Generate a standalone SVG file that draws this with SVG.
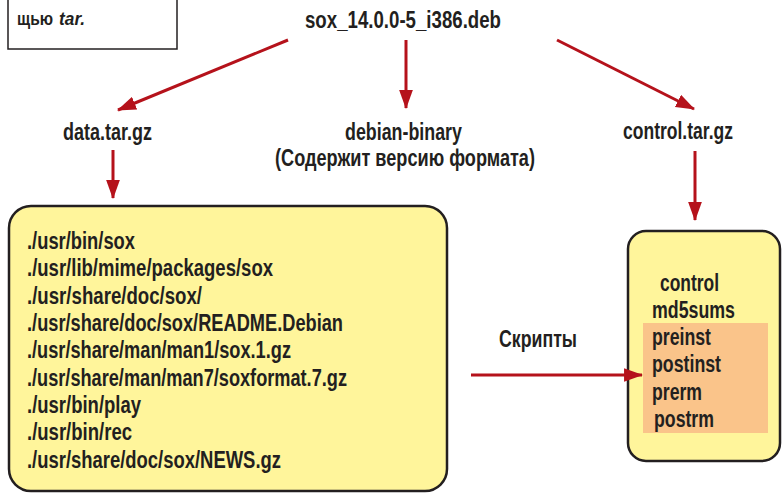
<svg xmlns="http://www.w3.org/2000/svg" width="782" height="494" viewBox="0 0 782 494">
<defs>
<style>
text{font-family:"Liberation Sans",Arial,sans-serif;font-weight:bold;fill:#231f20;font-size:23px}
.c{stroke:#b5121b;stroke-width:3;fill:none;marker-end:url(#ah)}
.box{fill:#fff59b;stroke:#231f20;stroke-width:2.5}
</style>
<marker id="ah" markerUnits="userSpaceOnUse" markerWidth="19" markerHeight="14" refX="17" refY="6.5" orient="auto" viewBox="0 0 18 13">
<path d="M0,0 L18,6.5 L0,13 z" fill="#b5121b"/>
</marker>
</defs>
<rect width="782" height="494" fill="#ffffff"/>
<g id="note">
<rect x="8" y="-10" width="169" height="59" fill="#ffffff" stroke="#231f20" stroke-width="1.5"/>
<text x="17" y="25" style="font-size:18px" textLength="36" lengthAdjust="spacingAndGlyphs">щью</text>
<text x="59" y="25" style="font-size:18px;font-style:italic" textLength="26" lengthAdjust="spacingAndGlyphs">tar.</text>
</g>
<g id="deb">
<text x="305" y="28" textLength="196" lengthAdjust="spacingAndGlyphs">sox_14.0.0-5_i386.deb</text>
</g>
<g id="data">
<text x="63" y="140" textLength="89" lengthAdjust="spacingAndGlyphs">data.tar.gz</text>
</g>
<g id="debian-binary">
<text x="345" y="140" textLength="117" lengthAdjust="spacingAndGlyphs">debian-binary</text>
<text x="275" y="166" textLength="260" lengthAdjust="spacingAndGlyphs">(Содержит версию формата)</text>
</g>
<g id="control-tar">
<text x="623" y="139" textLength="110" lengthAdjust="spacingAndGlyphs">control.tar.gz</text>
</g>
<g id="files">
<rect class="box" x="9" y="206" width="438" height="285" rx="22"/>
<text x="27" y="249" textLength="108" lengthAdjust="spacingAndGlyphs">./usr/bin/sox</text>
<text x="27" y="276" textLength="246" lengthAdjust="spacingAndGlyphs">./usr/lib/mime/packages/sox</text>
<text x="27" y="304" textLength="175" lengthAdjust="spacingAndGlyphs">./usr/share/doc/sox/</text>
<text x="27" y="331" textLength="316" lengthAdjust="spacingAndGlyphs">./usr/share/doc/sox/README.Debian</text>
<text x="27" y="358" textLength="264" lengthAdjust="spacingAndGlyphs">./usr/share/man/man1/sox.1.gz</text>
<text x="27" y="386" textLength="320" lengthAdjust="spacingAndGlyphs">./usr/share/man/man7/soxformat.7.gz</text>
<text x="27" y="413" textLength="114" lengthAdjust="spacingAndGlyphs">./usr/bin/play</text>
<text x="27" y="440" textLength="105" lengthAdjust="spacingAndGlyphs">./usr/bin/rec</text>
<text x="27" y="468" textLength="254" lengthAdjust="spacingAndGlyphs">./usr/share/doc/sox/NEWS.gz</text>
</g>
<g id="control">
<rect class="box" x="628" y="231" width="152" height="230" rx="18"/>
<rect x="643" y="323" width="125" height="110" fill="#fac48a"/>
<text x="660" y="291" textLength="59" lengthAdjust="spacingAndGlyphs">control</text>
<text x="652" y="318" textLength="83" lengthAdjust="spacingAndGlyphs">md5sums</text>
<text x="652" y="345" textLength="59" lengthAdjust="spacingAndGlyphs">preinst</text>
<text x="652" y="372" textLength="69" lengthAdjust="spacingAndGlyphs">postinst</text>
<text x="652" y="400" textLength="50" lengthAdjust="spacingAndGlyphs">prerm</text>
<text x="654" y="427" textLength="60" lengthAdjust="spacingAndGlyphs">postrm</text>
</g>
<g id="scripts-label">
<text x="499" y="347" textLength="78" lengthAdjust="spacingAndGlyphs">Скрипты</text>
</g>
<g id="connectors">
<line class="c" x1="288" y1="40" x2="118" y2="110"/>
<line class="c" x1="406" y1="40" x2="406" y2="108"/>
<line class="c" x1="557" y1="40" x2="694" y2="109"/>
<line class="c" x1="113" y1="150" x2="113" y2="198"/>
<line class="c" x1="695" y1="151" x2="695" y2="220"/>
<line class="c" x1="471" y1="375" x2="642" y2="375"/>
</g>
</svg>
